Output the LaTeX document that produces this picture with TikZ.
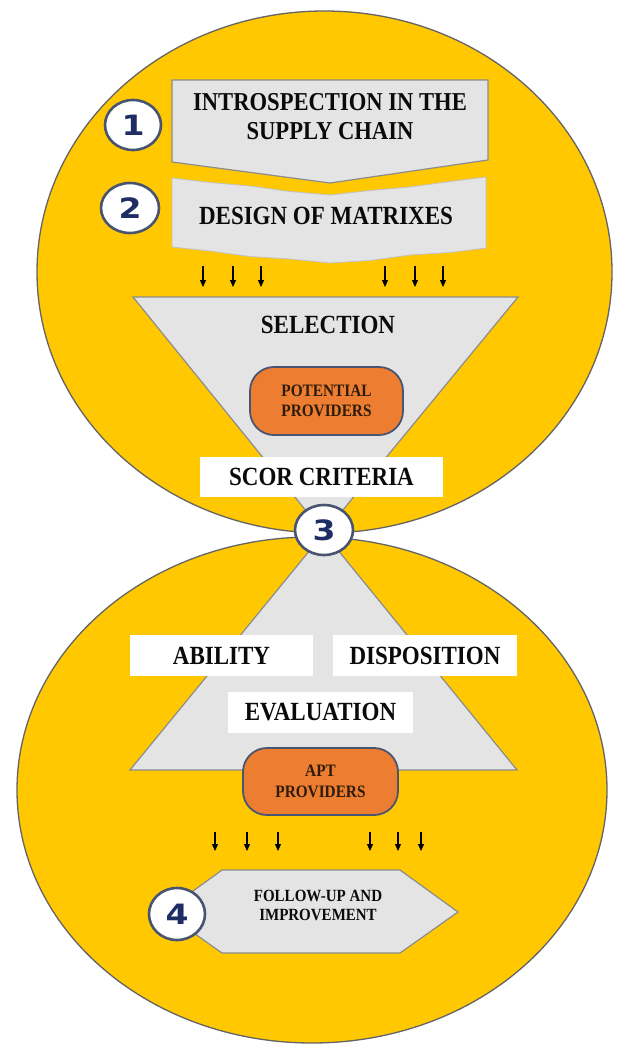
\documentclass[tikz,border=0pt]{standalone}
\usepackage{fontspec}
\setmainfont{Liberation Serif}
\newfontfamily\numfont{DejaVu Sans}
\usetikzlibrary{shapes.geometric,arrows.meta}
\definecolor{gold}{RGB}{255,200,0}
\definecolor{rim}{RGB}{100,100,100}
\definecolor{paper}{RGB}{228,228,228}
\definecolor{edge}{RGB}{140,140,140}
\definecolor{orng}{RGB}{237,125,49}
\definecolor{slate}{RGB}{72,84,112}
\definecolor{navy}{RGB}{30,45,100}
\definecolor{ink}{RGB}{10,10,10}
\definecolor{brownink}{RGB}{45,28,12}
\newcommand{\tallline}[1]{\scalebox{1}[1.14]{#1}}
\newcommand{\wideline}[1]{\scalebox{1.18}[1]{#1}}
\begin{document}
\begin{tikzpicture}[x=1pt,y=-1pt,
  lobe/.style={fill=gold,draw=rim,line width=1.3pt},
  sheet/.style={fill=paper,draw=edge,line width=1.2pt},
  softsheet/.style={fill=paper,draw=paper!85!black,line width=0.8pt},
  numring/.style={ellipse,draw=slate,line width=2.6pt,fill=white,inner sep=0pt,
    text=navy,font=\numfont\bfseries\fontsize{28}{28}\selectfont},
  pill/.style={rectangle,rounded corners=24pt,fill=orng,draw=slate,line width=1.8pt,
    minimum width=154pt,minimum height=67pt,align=center,text=brownink,
    font=\bfseries\fontsize{15.3}{20.5}\selectfont},
  tag/.style={rectangle,fill=white,inner sep=0pt,minimum height=41pt,
    text=ink,font=\bfseries\fontsize{23}{26}\selectfont},
  title/.style={align=center,text=ink,inner sep=0pt,font=\bfseries\fontsize{22.6}{29}\selectfont},
  small/.style={align=center,text=ink,inner sep=0pt,font=\bfseries\fontsize{15}{19}\selectfont},
  dn/.style={line width=1.1pt,-{Triangle[length=7pt,width=6pt]}}]
\useasboundingbox (0,0) rectangle (616,1047);
% two lobes
\draw[lobe] (324.5,272) ellipse [x radius=287.5, y radius=261];
\draw[lobe] (312,790) ellipse [x radius=295, y radius=253];
% funnels
\draw[sheet] (133,297) -- (518,297) -- (324,533) -- cycle;
\draw[sheet] (324,533) -- (517,770) -- (130,770) -- cycle;
% step 1 box
\draw[sheet] (172,80) -- (488,80) -- (488,160) -- (330,183) -- (172,162) -- cycle;
\node[title] (intro) at (330,117) {\tallline{INTROSPECTION IN THE}\\\tallline{SUPPLY CHAIN}};
% step 2 box (torn edges)
\draw[softsheet] (172,178) -- (210,182.5) -- (250,186) -- (290,191.5) -- (330,195)
  -- (370,190.5) -- (410,187) -- (450,181.5) -- (486,177)
  -- (486,248) -- (450,252.5) -- (410,255) -- (370,260.5) -- (330,263)
  -- (290,259) -- (250,256.5) -- (210,251) -- (172,247) -- cycle;
\node[title,font=\bfseries\fontsize{23}{26}\selectfont] (design) at (326,216) {\tallline{DESIGN OF MATRIXES}};
% number rings
\node[numring,minimum width=56pt,minimum height=50pt] (n1) at (133,125) {\wideline{1}};
\node[numring,minimum width=58pt,minimum height=50pt] (n2) at (130,208) {\wideline{2}};
% arrows into selection
\foreach \x [count=\i] in {203,233,261,385,415,443}{
  \coordinate (ta\i) at (\x,266);
  \coordinate (tb\i) at (\x,287);
  \draw[dn] (ta\i) -- (tb\i);
}
\node[title,font=\bfseries\fontsize{23}{26}\selectfont] (sel) at (328,325) {\tallline{SELECTION}};
\node[pill,minimum width=153pt,minimum height=68pt] (pot) at (326.5,401) {\tallline{POTENTIAL}\\\tallline{PROVIDERS}};
\node[tag,minimum width=243pt,minimum height=40pt] (scor) at (321.5,477) {\tallline{SCOR CRITERIA}};
\node[numring,minimum width=58pt,minimum height=50pt] (n3) at (324,530) {\wideline{3}};
% evaluation part
\node[tag,minimum width=183pt] (abil) at (221.5,655.5) {\tallline{ABILITY}};
\node[tag,minimum width=184pt] (disp) at (425,655.5) {\tallline{DISPOSITION}};
\node[tag,minimum width=185pt] (eval) at (320.5,712.5) {\tallline{EVALUATION}};
\node[pill,minimum width=155pt,minimum height=67pt] (apt) at (320.5,781.5) {\tallline{APT}\\\tallline{PROVIDERS}};
\foreach \x [count=\i] in {215,247,278,370,398,421}{
  \coordinate (ba\i) at (\x,832);
  \coordinate (bb\i) at (\x,851);
  \draw[dn] (ba\i) -- (bb\i);
}
% step 4
\draw[sheet] (222,870) -- (400,870) -- (458,912) -- (400,953) -- (222,953) -- (164,912) -- cycle;
\node[small] (follow) at (318,905) {\tallline{FOLLOW-UP AND}\\\tallline{IMPROVEMENT}};
\node[numring,minimum width=56pt,minimum height=52pt] (n4) at (177,914) {\wideline{4}};
\end{tikzpicture}
\end{document}
